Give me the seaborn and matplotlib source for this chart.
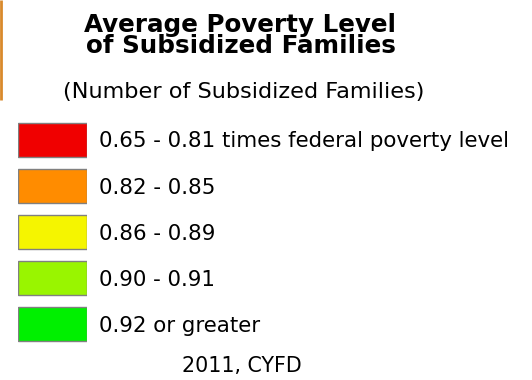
import matplotlib
matplotlib.use("Agg")
import matplotlib.pyplot as plt
import seaborn as sns
import pandas as pd

sns.set_theme(style="white")
plt.rcParams['font.family'] = ['DejaVu Sans']
plt.rcParams['text.color'] = 'black'

title_lines = ["Average Poverty Level", "of Subsidized Families"]
subtitle = "(Number of Subsidized Families)"
labels = ["0.65 - 0.81 times federal poverty level", "0.82 - 0.85",
          "0.86 - 0.89", "0.90 - 0.91", "0.92 or greater"]
colors = ["#F00000", "#FF8C00", "#F5F500", "#99F500", "#00F000"]
footer = "2011, CYFD"

W, H = 532, 380
fig = plt.figure(figsize=(W / 100, H / 100), dpi=100)
fig.patch.set_facecolor("white")

def fx(x):
    return x / W

def fy(y):
    return 1 - y / H

# background axes in pixel coords for the cropped map border
bg = fig.add_axes([0, 0, 1, 1])
bg.set_xlim(0, W)
bg.set_ylim(H, 0)
bg.axis("off")
bg.plot([1, 1], [0, 100], color="#D98A2B", lw=2, solid_capstyle="butt")

# swatches
pitch = 46
top = 117
n = len(labels)
ax = fig.add_axes([fx(18), fy(top + pitch * n), fx(87) - fx(18), pitch * n / H])
df = pd.DataFrame({"label": labels, "v": [1] * n})
sns.barplot(data=df, x="v", y="label", hue="label", palette=colors, legend=False,
            width=34 / pitch, edgecolor="#808080", linewidth=1, ax=ax, orient="h",
            saturation=1)
ax.set_xlim(0, 1)
ax.set_ylim(n - 0.5, -0.5)
ax.axis("off")

renderer = fig.canvas.get_renderer()

def fit(texts, target_w):
    ref = texts[0]
    w = ref.get_window_extent(renderer).width
    fs = ref.get_fontsize() * target_w / w
    for t in texts:
        t.set_fontsize(fs)

# title: fit size on a single line, then build the two-line block
probe = fig.text(0, 0, title_lines[0], fontsize=17, fontweight="bold")
fit([probe], 313)
tfs = probe.get_fontsize()
h1 = probe.get_window_extent(renderer).height
probe.remove()

ls = 1.0
# baseline alignment of a multi-line text refers to its last line
title = fig.text(fx(240.5), fy(53), "\n".join(title_lines), ha="center",
                 va="baseline", multialignment="center", fontsize=tfs,
                 fontweight="bold", linespacing=ls)
for _ in range(6):
    h2 = title.get_window_extent(renderer).height
    gap = h2 - h1
    if gap > 0:
        ls = ls * 21.0 / gap
        title.set_linespacing(ls)

st = fig.text(fx(244), fy(98), subtitle, ha="center", va="baseline", fontsize=15)
fit([st], 362)

items = []
for i, lab in enumerate(labels):
    yc = top + pitch * i + pitch / 2
    items.append(fig.text(fx(99), fy(yc + 7.5), lab, ha="left", va="baseline",
                          fontsize=15))
fit(items, 413)

ft = fig.text(fx(182), fy(372), footer, ha="left", va="baseline", fontsize=14)
fit([ft], 120)

fig.savefig("out.png", dpi=100)
